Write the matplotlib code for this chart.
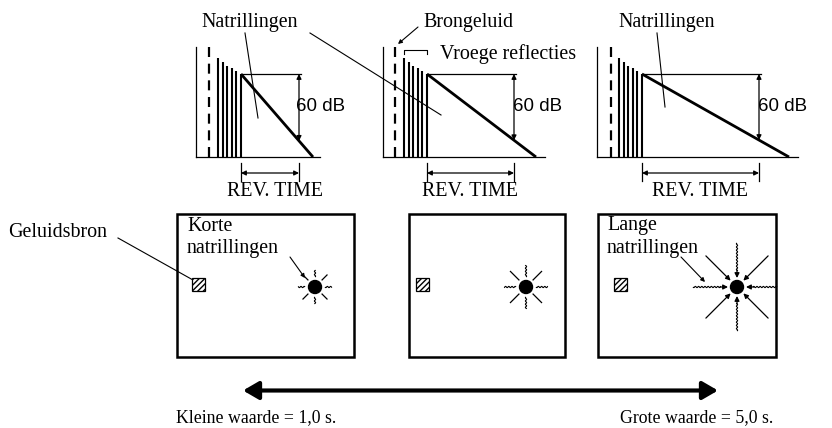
import numpy as np
import matplotlib
matplotlib.use("Agg")
import matplotlib.pyplot as plt
from matplotlib.patches import Rectangle, Circle, FancyArrowPatch

# ---- data (diagram geometry in pixel units of the 832x428 canvas) ----
panel_axis_x = [196, 383, 597]          # vertical axis of each decay graph
panel_dash_x = [209, 395, 611]          # direct sound (dashed)
panel_bar_x0 = [218, 404, 619]          # first early reflection
panel_decay_x0 = [241, 427, 642]        # decay start
panel_decay_x1 = [313, 536, 789]        # decay reaches baseline
panel_base_x1 = [320, 545, 798]         # end of baseline
panel_rt_x1 = [299, 514, 759]           # end of 60 dB / reverb-time marker
reflection_tops = [58.3, 62.3, 65.7, 67.7, 70.7, 74]
panel_labels_60 = ["60 dB", "60 dB", "60 dB"]
rev_label = "REV. TIME"
box_x = [(177, 354), (409, 565), (598, 776)]
source_x = [192, 416, 614]
sun_x = [315, 526, 737]
ray_lengths = [(10, 17), (10, 22), None]
top_y, base_y, decay_y0 = 47, 157, 74

SERIF = ["Liberation Serif", "DejaVu Serif"]
SANS = ["Liberation Sans", "DejaVu Sans"]
FS = 14.4

fig = plt.figure(figsize=(8.32, 4.28), dpi=100)
ax = fig.add_axes([0, 0, 1, 1])
ax.set_xlim(0, 832)
ax.set_ylim(428, 0)
ax.axis("off")

def arrow(p0, p1, style="-|>", lw=1.0, ms=7, color="black", z=3):
    a = FancyArrowPatch(p0, p1, arrowstyle=style, mutation_scale=ms, lw=lw,
                        color=color, shrinkA=0, shrinkB=0, zorder=z)
    ax.add_patch(a)

def wavy(p0, p1, amp=0.6, wl=3.2, lw=0.8):
    p0 = np.array(p0, float); p1 = np.array(p1, float)
    d = p1 - p0
    L = np.hypot(*d)
    u = d / L
    n = np.array([-u[1], u[0]])
    t = np.linspace(0, L, int(L * 4) + 2)
    pts = p0[None, :] + t[:, None] * u[None, :] + (amp * np.sin(2 * np.pi * t / wl))[:, None] * n[None, :]
    ax.plot(pts[:, 0], pts[:, 1], color="black", lw=lw, solid_capstyle="butt")

# ---- decay graphs ----
for i in range(3):
    ax0 = panel_axis_x[i]
    ax.plot([ax0, ax0], [top_y, base_y], color="black", lw=0.9)
    ax.plot([ax0, panel_base_x1[i]], [base_y, base_y], color="black", lw=0.9)
    ax.plot([panel_dash_x[i]] * 2, [top_y, base_y], color="black", lw=1.6,
            dashes=(4.5, 3))
    xs = np.linspace(panel_bar_x0[i], panel_decay_x0[i], len(reflection_tops))
    for xb, yt in zip(xs, reflection_tops):
        ax.plot([xb, xb], [yt, base_y], color="black", lw=1.5, solid_capstyle="butt")
    x0, x1 = panel_decay_x0[i], panel_decay_x1[i]
    ax.plot([x0, x1], [decay_y0, base_y], color="black", lw=2.0, solid_capstyle="butt")
    xr = panel_rt_x1[i]
    ax.plot([x0, xr + 2], [decay_y0, decay_y0], color="black", lw=0.9)
    yr = decay_y0 + (xr - x0) / (x1 - x0) * (base_y - decay_y0)
    arrow((xr, decay_y0), (xr, yr), style="<|-|>", lw=0.9, ms=7)
    ax.text(xr + 24 - (2 if i == 0 else 0), 106, panel_labels_60[i], family=SANS,
            fontsize=13.5, ha="center", va="center")
    # reverb-time marker
    ax.plot([x0, x0], [163, 181], color="black", lw=0.9)
    ax.plot([xr, xr], [163, 181], color="black", lw=0.9)
    arrow((x0, 173), (xr, 173), style="<|-|>", lw=0.9, ms=7)
    ax.text((x0 + xr) / 2 - 1 + (0 if i else 6), 191, rev_label, family=SERIF,
            fontsize=FS, ha="center", va="center")

# labels on graphs
ax.text(250, 22, "Natrillingen", family=SERIF, fontsize=FS, ha="center", va="center")
ax.plot([245, 258], [33, 118], color="black", lw=0.8)
ax.plot([310, 441], [33, 115], color="black", lw=0.8)
ax.text(667, 22, "Natrillingen", family=SERIF, fontsize=FS, ha="center", va="center")
ax.plot([657, 665], [33, 107], color="black", lw=0.8)
ax.text(423, 22, "Brongeluid", family=SERIF, fontsize=FS, ha="left", va="center")
arrow((418, 27), (398, 44), lw=0.8, ms=6)
ax.text(440, 54, "Vroege reflecties", family=SERIF, fontsize=FS, ha="left", va="center")
ax.plot([404, 404, 427, 427], [54, 50, 50, 54], color="black", lw=0.8)

# ---- room boxes ----
for i in range(3):
    xl, xr = box_x[i]
    ax.add_patch(Rectangle((xl, 214), xr - xl, 143, fill=False, lw=1.8,
                           edgecolor="black", zorder=2))
    ax.add_patch(Rectangle((source_x[i], 278), 13, 13, facecolor="white",
                           edgecolor="black", lw=0.9, hatch="//////", zorder=3))
    cx, cy = sun_x[i], 287
    ax.add_patch(Circle((cx, cy), 6.5, color="black", zorder=4))
    for k in range(8):
        ang = k * np.pi / 4
        u = np.array([np.cos(ang), np.sin(ang)])
        c = np.array([cx, cy])
        if ray_lengths[i] is not None:
            r0, r1 = ray_lengths[i]
            if k % 2 == 0:
                wavy(c + r0 * u, c + r1 * u)
            else:
                ax.plot(*zip(c + r0 * u, c + r1 * u), color="black", lw=0.9)
        else:
            r_out = 40 if k == 0 else 44
            if k % 2 == 0:
                wavy(c + r_out * u, c + 16 * u)
                arrow(tuple(c + 17 * u), tuple(c + 9 * u), lw=0.9, ms=7)
            else:
                arrow(tuple(c + r_out * u), tuple(c + 9 * u), lw=0.9, ms=7)

ax.text(107, 232, "Geluidsbron", family=SERIF, fontsize=FS, ha="right", va="center")
ax.plot([118, 193], [238, 280], color="black", lw=0.8)
ax.text(187, 226, "Korte", family=SERIF, fontsize=FS, ha="left", va="center")
ax.text(187, 249, "natrillingen", family=SERIF, fontsize=FS, ha="left", va="center")
arrow((290, 257), (305, 278), lw=0.8, ms=6)
ax.text(607, 225, "Lange", family=SERIF, fontsize=FS, ha="left", va="center")
ax.text(607, 248, "natrillingen", family=SERIF, fontsize=FS, ha="left", va="center")
arrow((681, 257), (705, 282), lw=0.8, ms=6)

# ---- scale arrow ----
arrow((243, 390.5), (718, 390.5), style="<|-|>,head_length=0.62,head_width=0.36",
      lw=3.0, ms=15)
ax.text(176, 418, "Kleine waarde = 1,0 s.", family=SERIF, fontsize=12.8,
        ha="left", va="center")
ax.text(773, 418, "Grote waarde = 5,0 s.", family=SERIF, fontsize=12.8,
        ha="right", va="center")

fig.savefig("out.png", dpi=100)
